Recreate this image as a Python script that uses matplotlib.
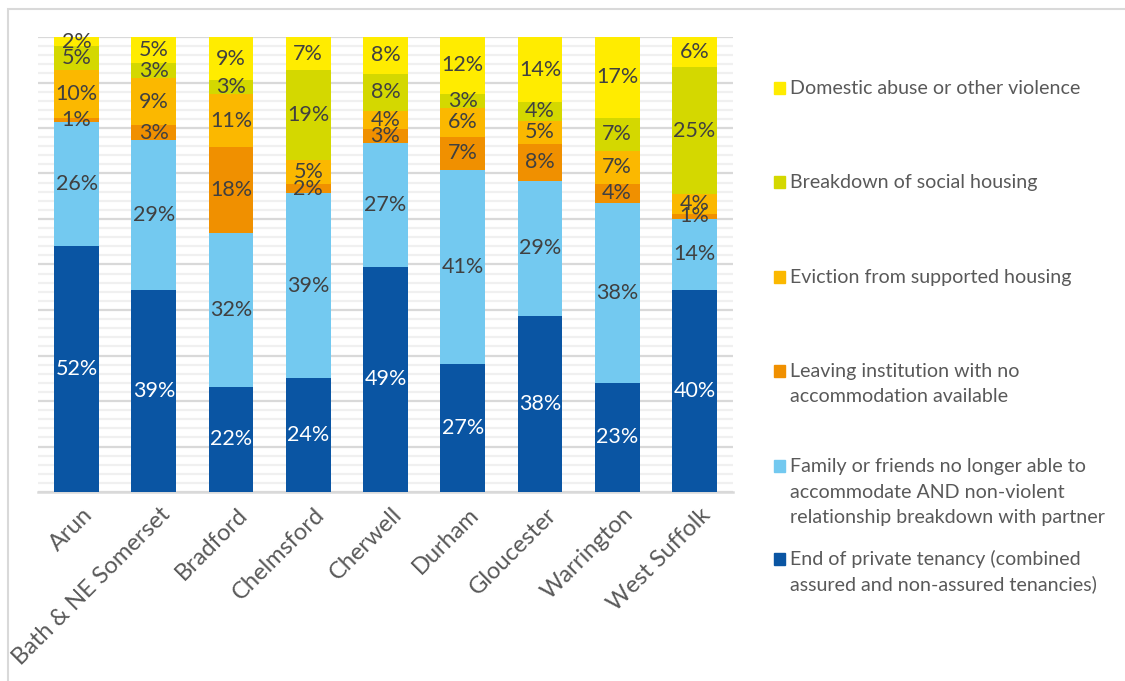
import matplotlib
matplotlib.use("Agg")
import matplotlib.pyplot as plt
import numpy as np
from matplotlib.patches import Rectangle
from matplotlib.ticker import MultipleLocator
from matplotlib.transforms import offset_copy

plt.rcParams["font.family"] = ["Lato", "DejaVu Sans"]

areas = ["Arun", "Bath & NE Somerset", "Bradford", "Chelmsford", "Cherwell",
         "Durham", "Gloucester", "Warrington", "West Suffolk"]

# Share of main duty cases by reason (%), bottom of the stack first
end_private_tenancy = [52, 39, 22, 24, 49, 27, 38, 23, 40]
family_friends      = [26, 29, 32, 39, 27, 41, 29, 38, 14]
leaving_institution = [1, 3, 18, 2, 3, 7, 8, 4, 1]
eviction_supported  = [10, 9, 11, 5, 4, 6, 5, 7, 4]
social_breakdown    = [5, 3, 3, 19, 8, 3, 4, 7, 25]
domestic_abuse      = [2, 5, 9, 7, 8, 12, 14, 17, 6]

series_names = [
    "End of private tenancy (combined\nassured and non-assured tenancies)",
    "Family or friends no longer able to\naccommodate AND non-violent\nrelationship breakdown with partner",
    "Leaving institution with no\naccommodation available",
    "Eviction from supported housing",
    "Breakdown of social housing",
    "Domestic abuse or other violence",
]
series_values = [end_private_tenancy, family_friends, leaving_institution,
                 eviction_supported, social_breakdown, domestic_abuse]
colors = ["#0A55A3", "#73C9F0", "#F09000", "#FBB800", "#D4D800", "#FFEC00"]
label_colors = ["white", "#404040", "#404040", "#404040", "#404040", "#404040"]

W, H = 1125, 681
fig = plt.figure(figsize=(W / 100, H / 100), dpi=100)
ax = fig.add_axes([38 / W, 1 - 492 / H, (733 - 38) / W, (492 - 37) / H])

vals = np.array(series_values, dtype=float)
totals = vals.sum(axis=0)
shares = vals / totals  # 100% stacked

x = np.arange(len(areas))
bottom = np.zeros(len(areas))
for i, (row, share) in enumerate(zip(vals, shares)):
    ax.bar(x, share, 0.58, bottom=bottom, color=colors[i], zorder=3,
           linewidth=0)
    for xi, b, s, v in zip(x, bottom, share, row):
        ax.text(xi, b + s / 2, f"{int(v)}%", ha="center", va="center",
                fontsize=15.5, color=label_colors[i], zorder=4)
    bottom += share

ax.set_xlim(-0.5, len(areas) - 0.5)
ax.set_ylim(0, 1)
ax.yaxis.set_major_locator(MultipleLocator(0.1))
ax.yaxis.set_minor_locator(MultipleLocator(0.02))
ax.grid(axis="y", which="major", color="#D9D9D9", linewidth=1.6, zorder=1)
ax.grid(axis="y", which="minor", color="#F0F0F0", linewidth=1.6, zorder=0)
ax.tick_params(axis="y", which="both", left=False, labelleft=False)
for side in ["left", "right", "top"]:
    ax.spines[side].set_visible(False)
ax.spines["bottom"].set_color("#D9D9D9")
ax.spines["bottom"].set_linewidth(1.8)
ax.spines["bottom"].set_zorder(2)

ax.set_xticks(x)
ax.set_xticklabels(areas, rotation=45, ha="right", va="center",
                   rotation_mode="anchor", fontsize=17, color="#595959")
ax.tick_params(axis="x", length=0, pad=14)
for lbl in ax.get_xticklabels():
    lbl.set_transform(offset_copy(lbl.get_transform(), fig=fig, x=13, y=0,
                                  units="dots"))

# legend, top entry is the top of the stack
baselines = [94, 188, 283, 377, 472, 565]
line_step = 25.5
for k, (name, col) in enumerate(zip(series_names[::-1], colors[::-1])):
    yb = baselines[k]
    fig.patches.append(Rectangle((774 / W, 1 - (yb - 0.5) / H), 11.5 / W, 11.5 / H,
                                 transform=fig.transFigure, color=col))
    for j, line in enumerate(name.split("\n")):
        fig.text(790 / W, 1 - (yb + j * line_step) / H, line, ha="left",
                 va="baseline", fontsize=14.1, color="#595959")

# chart frame
fig.patches.append(Rectangle((8 / W, -0.5), 2, 1.5 - 9 / H,
                             transform=fig.transFigure, fill=False,
                             edgecolor="#D9D9D9", linewidth=1.5))

fig.savefig("out.png", dpi=100)
